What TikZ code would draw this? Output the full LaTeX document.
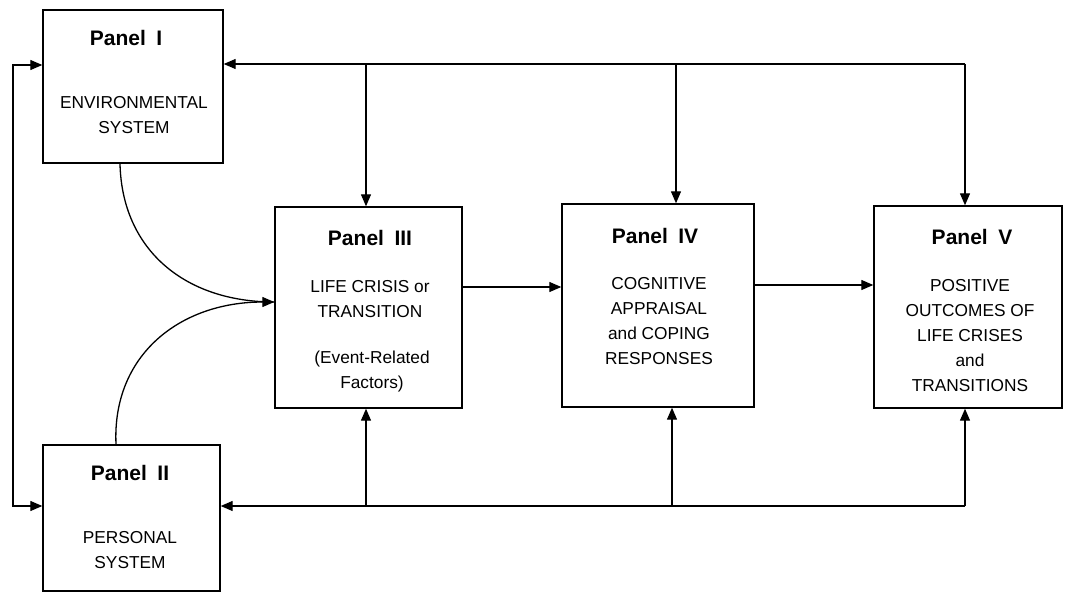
\documentclass[tikz,border=0pt]{standalone}
\usepackage{fontspec}
\setmainfont{Liberation Sans}
\usetikzlibrary{arrows.meta,calc}
\begin{document}
\begin{tikzpicture}[x=1pt,y=-1pt,
  panelbox/.style={draw,line width=1.4pt,inner sep=0pt},
  ttl/.style={font=\bfseries\fontsize{21}{24}\selectfont,inner sep=0pt},
  body/.style={font=\fontsize{17.3}{25}\selectfont,align=center,inner sep=0pt},
  conn/.style={line width=1.3pt},
  arr/.style={conn,-{Triangle[length=12pt,width=10pt]}},
  darr/.style={conn,{Triangle[length=12pt,width=10pt]}-{Triangle[length=12pt,width=10pt]}}]
\useasboundingbox (0,0) rectangle (1065,594);
% boxes
\node[panelbox,minimum width=180pt,minimum height=153pt] (p1) at (133,86.5) {};
\node[panelbox,minimum width=177pt,minimum height=146pt] (p2) at (131.5,518) {};
\node[panelbox,minimum width=187pt,minimum height=201pt] (p3) at (368.5,307.5) {};
\node[panelbox,minimum width=192pt,minimum height=203pt] (p4) at (658,305.5) {};
\node[panelbox,minimum width=188pt,minimum height=202pt] (p5) at (968,307) {};
% texts
\node[ttl] (t1) at (126,38) {Panel\hspace{0.5em}I};
\node[body] (b1) at (134,115) {ENVIRONMENTAL\\SYSTEM};
\node[ttl] (t2) at (130,473) {Panel\hspace{0.5em}II};
\node[body] (b2) at (130,550) {PERSONAL\\SYSTEM};
\node[ttl] (t3) at (370,238) {Panel\hspace{0.5em}III};
\node[body] (b3a) at (370,299.5) {LIFE CRISIS or\\TRANSITION};
\node[body] (b3b) at (372,372) {(Event-Related\\Factors)};
\node[ttl] (t4) at (655,236) {Panel\hspace{0.5em}IV};
\node[body] (b4) at (659,321.5) {COGNITIVE\\APPRAISAL\\and COPING\\RESPONSES};
\node[ttl] (t5) at (972,237) {Panel\hspace{0.5em}V};
\node[body] (b5) at (970,336) {POSITIVE\\OUTCOMES OF\\LIFE CRISES\\and\\TRANSITIONS};
% coordinates of the bus lines
\coordinate (tR) at (965,64);
\coordinate (t3c) at (366,64);
\coordinate (t4c) at (676,64);
\coordinate (bR) at (965,506);
\coordinate (b3c) at (366,506);
\coordinate (b4c) at (672,506);
\coordinate (lT) at (13,65);
\coordinate (lB) at (13,506);
\coordinate (p3in) at (p3.west |- 0,302);
% top bus
\draw[arr] (tR) -- (p1.east |- tR);
\draw[arr] (t3c) -- (t3c |- p3.north);
\draw[arr] (t4c) -- (t4c |- p4.north);
\draw[arr] (tR) -- (tR |- p5.north);
% bottom bus
\draw[arr] (bR) -- (p2.east |- bR);
\draw[arr] (b3c) -- (b3c |- p3.south);
\draw[arr] (b4c) -- (b4c |- p4.south);
\draw[arr] (bR) -- (bR |- p5.south);
% left loop
\draw[darr] (p1.west |- lT) -- (lT) -- (lB) -- (p2.west |- lB);
% horizontal flow
\draw[arr] (p3.east |- 0,287) -- (p4.west |- 0,287);
\draw[arr] (p4.east |- 0,285) -- (p5.west |- 0,285);
% curves
\draw[conn] (p1.south -| 120,0) .. controls (122,250) and (185,302) .. (p3in);
\draw[arr] (p2.north -| 116,0) .. controls (112,355) and (180,302) .. (p3in);
\end{tikzpicture}
\end{document}
